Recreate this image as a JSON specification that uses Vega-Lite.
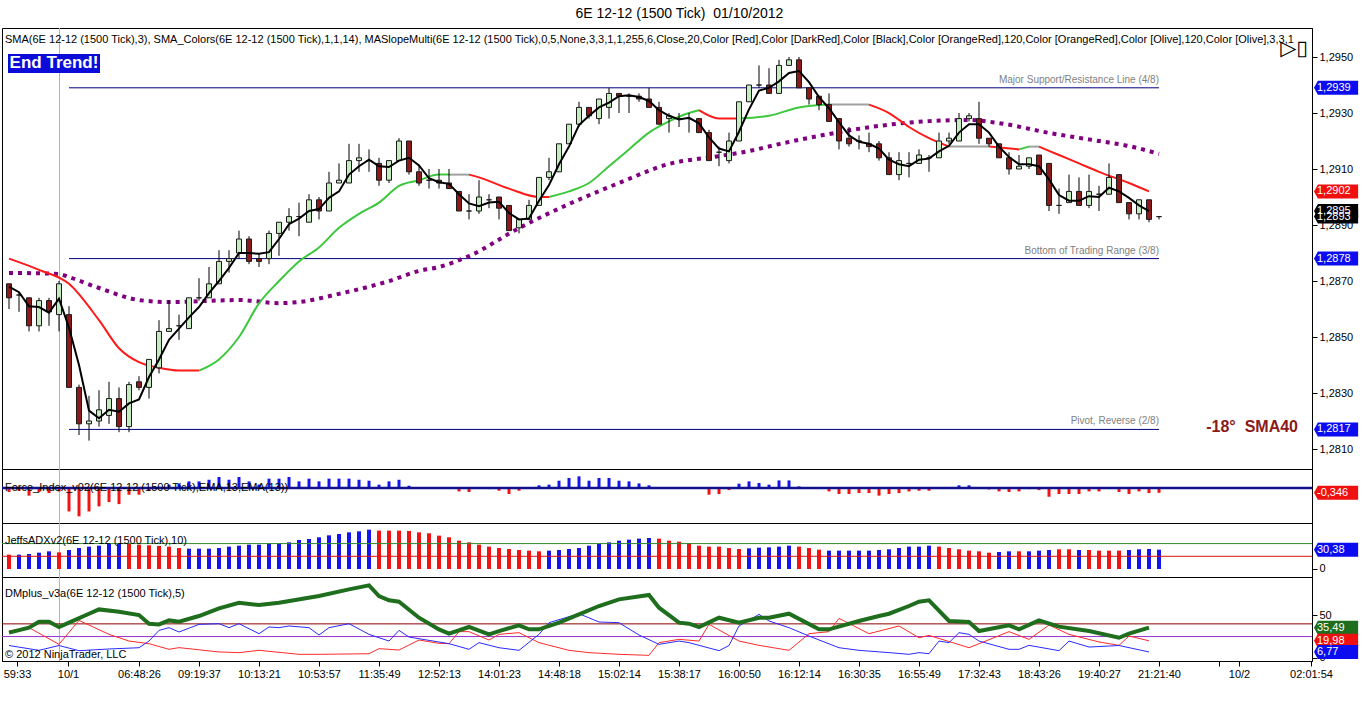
{
  "$schema": "https://vega.github.io/schema/vega-lite/v6.json",
  "background": "white",
  "padding": {"left": 0, "top": 7, "right": 0, "bottom": 0},
  "title": {"text": "6E 12-12 (1500 Tick)\u00a0 01/10/2012", "font": "Liberation Sans", "fontSize": 14, "fontWeight": "normal", "color": "black", "anchor": "middle", "offset": 6},
  "spacing": 0,
  "bounds": "flush",
  "config": {
    "view": {"stroke": "black", "strokeWidth": 1},
    "font": "Liberation Sans",
    "axis": {"grid": false, "labelFont": "Liberation Sans", "labelFontSize": 11, "labelColor": "black", "tickColor": "black", "domainColor": "black", "tickSize": 5, "labelPadding": 2, "labelOverlap": false},
    "text": {"font": "Liberation Sans"}
  },
  "resolve": {"scale": {"x": "independent", "y": "independent", "color": "independent", "fill": "independent", "stroke": "independent"}},
  "datasets": {
    "bars": [
      {"i":0,"o":1.2869,"h":1.2869,"l":1.2860,"c":1.2864,"s3":1.2868,"f":-0.29,"a":22.6,"ad":"dn"},
      {"i":1,"o":1.2865,"h":1.2866,"l":1.2859,"c":1.2865,"s3":1.2866,"f":-0.2,"a":22.6,"ad":"up"},
      {"i":2,"o":1.2864,"h":1.2864,"l":1.2852,"c":1.2854,"s3":1.2861,"f":-0.56,"a":23.6,"ad":"up"},
      {"i":3,"o":1.2854,"h":1.2864,"l":1.2852,"c":1.2863,"s3":1.28607,"f":-0.29,"a":25.7,"ad":"up"},
      {"i":4,"o":1.2863,"h":1.2864,"l":1.2854,"c":1.2859,"s3":1.28587,"f":-0.37,"a":27.8,"ad":"up"},
      {"i":5,"o":1.2858,"h":1.2870,"l":1.2852,"c":1.2869,"s3":1.28637,"f":-0.25,"a":26.2,"ad":"dn"},
      {"i":6,"o":1.2858,"h":1.2861,"l":1.2832,"c":1.2832,"s3":1.28533,"f":-1.72,"a":29.9,"ad":"up"},
      {"i":7,"o":1.2832,"h":1.2833,"l":1.2815,"c":1.2819,"s3":1.2840,"f":-2.08,"a":33,"ad":"up"},
      {"i":8,"o":1.2819,"h":1.2829,"l":1.2813,"c":1.2820,"s3":1.28237,"f":-1.72,"a":35.2,"ad":"up"},
      {"i":9,"o":1.2820,"h":1.2831,"l":1.2818,"c":1.2824,"s3":1.2821,"f":-1.35,"a":36.7,"ad":"up"},
      {"i":10,"o":1.2822,"h":1.2834,"l":1.2819,"c":1.2828,"s3":1.2824,"f":-1.03,"a":39.4,"ad":"up"},
      {"i":11,"o":1.2828,"h":1.2832,"l":1.2816,"c":1.2818,"s3":1.28233,"f":-1.18,"a":40.4,"ad":"up"},
      {"i":12,"o":1.2818,"h":1.2834,"l":1.2816,"c":1.2833,"s3":1.28263,"f":-0.49,"a":39.4,"ad":"dn"},
      {"i":13,"o":1.2834,"h":1.2836,"l":1.2831,"c":1.2832,"s3":1.28277,"f":-0.49,"a":38.3,"ad":"dn"},
      {"i":14,"o":1.2832,"h":1.2842,"l":1.2828,"c":1.2842,"s3":1.28357,"f":-0.2,"a":37.3,"ad":"dn"},
      {"i":15,"o":1.2839,"h":1.2856,"l":1.2837,"c":1.2852,"s3":1.2842,"f":0.1,"a":36.2,"ad":"dn"},
      {"i":16,"o":1.2852,"h":1.2863,"l":1.2852,"c":1.2853,"s3":1.2849,"f":0.25,"a":35.2,"ad":"dn"},
      {"i":17,"o":1.2854,"h":1.2858,"l":1.2849,"c":1.2854,"s3":1.2853,"f":0.3,"a":33,"ad":"dn"},
      {"i":18,"o":1.2853,"h":1.2864,"l":1.2853,"c":1.2864,"s3":1.2857,"f":0.49,"a":32,"ad":"up"},
      {"i":19,"o":1.2864,"h":1.2871,"l":1.2863,"c":1.2864,"s3":1.28607,"f":0.49,"a":32,"ad":"up"},
      {"i":20,"o":1.2864,"h":1.2875,"l":1.2864,"c":1.2869,"s3":1.28657,"f":0.61,"a":32,"ad":"up"},
      {"i":21,"o":1.2869,"h":1.2881,"l":1.2869,"c":1.2877,"s3":1.2870,"f":0.81,"a":33,"ad":"up"},
      {"i":22,"o":1.2877,"h":1.2881,"l":1.2873,"c":1.2878,"s3":1.28747,"f":0.61,"a":35.2,"ad":"up"},
      {"i":23,"o":1.2880,"h":1.2888,"l":1.2878,"c":1.2885,"s3":1.2880,"f":0.81,"a":36.7,"ad":"up"},
      {"i":24,"o":1.2885,"h":1.2886,"l":1.2876,"c":1.2877,"s3":1.2880,"f":0.49,"a":38.3,"ad":"up"},
      {"i":25,"o":1.2878,"h":1.2880,"l":1.2875,"c":1.2877,"s3":1.28797,"f":0.25,"a":38.3,"ad":"up"},
      {"i":26,"o":1.2878,"h":1.2888,"l":1.2876,"c":1.2887,"s3":1.28803,"f":0.69,"a":40.4,"ad":"up"},
      {"i":27,"o":1.2887,"h":1.2891,"l":1.2879,"c":1.2891,"s3":1.2885,"f":0.69,"a":40.4,"ad":"up"},
      {"i":28,"o":1.2891,"h":1.2896,"l":1.2888,"c":1.2893,"s3":1.28903,"f":0.81,"a":42,"ad":"up"},
      {"i":29,"o":1.2893,"h":1.2898,"l":1.2886,"c":1.2893,"s3":1.28923,"f":0.49,"a":45.7,"ad":"up"},
      {"i":30,"o":1.2891,"h":1.2901,"l":1.2891,"c":1.2899,"s3":1.2895,"f":0.69,"a":47.2,"ad":"up"},
      {"i":31,"o":1.2899,"h":1.2900,"l":1.2892,"c":1.2895,"s3":1.28957,"f":0.49,"a":49.9,"ad":"up"},
      {"i":32,"o":1.2895,"h":1.2909,"l":1.2895,"c":1.2905,"s3":1.28997,"f":0.69,"a":53,"ad":"up"},
      {"i":33,"o":1.2905,"h":1.2912,"l":1.2905,"c":1.2906,"s3":1.2902,"f":0.69,"a":55.1,"ad":"up"},
      {"i":34,"o":1.2905,"h":1.2919,"l":1.2905,"c":1.2913,"s3":1.2908,"f":0.69,"a":57.7,"ad":"up"},
      {"i":35,"o":1.2913,"h":1.2919,"l":1.2909,"c":1.2914,"s3":1.2911,"f":0.61,"a":59.3,"ad":"up"},
      {"i":36,"o":1.2913,"h":1.2917,"l":1.2909,"c":1.2913,"s3":1.29133,"f":0.54,"a":61.9,"ad":"up"},
      {"i":37,"o":1.2912,"h":1.2914,"l":1.2904,"c":1.2906,"s3":1.2911,"f":0.25,"a":60.4,"ad":"dn"},
      {"i":38,"o":1.2906,"h":1.2913,"l":1.2905,"c":1.2913,"s3":1.29107,"f":0.49,"a":60.4,"ad":"dn"},
      {"i":39,"o":1.2913,"h":1.2921,"l":1.2913,"c":1.2920,"s3":1.2913,"f":0.61,"a":60.4,"ad":"dn"},
      {"i":40,"o":1.2920,"h":1.2920,"l":1.2908,"c":1.2909,"s3":1.2914,"f":0.17,"a":59.8,"ad":"dn"},
      {"i":41,"o":1.2909,"h":1.2911,"l":1.2904,"c":1.2905,"s3":1.29113,"f":0.02,"a":57.7,"ad":"dn"},
      {"i":42,"o":1.2906,"h":1.2910,"l":1.2903,"c":1.2906,"s3":1.29067,"f":-0.03,"a":56.2,"ad":"dn"},
      {"i":43,"o":1.2906,"h":1.2910,"l":1.2903,"c":1.2905,"s3":1.29053,"f":0.01,"a":52.5,"ad":"dn"},
      {"i":44,"o":1.2905,"h":1.2910,"l":1.2903,"c":1.2903,"s3":1.29047,"f":-0.05,"a":49.9,"ad":"dn"},
      {"i":45,"o":1.2902,"h":1.2902,"l":1.2895,"c":1.2895,"s3":1.2901,"f":-0.25,"a":44.6,"ad":"dn"},
      {"i":46,"o":1.2895,"h":1.2901,"l":1.2892,"c":1.2895,"s3":1.28977,"f":-0.29,"a":42,"ad":"dn"},
      {"i":47,"o":1.2895,"h":1.2906,"l":1.2894,"c":1.2900,"s3":1.28967,"f":-0.05,"a":38.3,"ad":"dn"},
      {"i":48,"o":1.2899,"h":1.2901,"l":1.2896,"c":1.2899,"s3":1.2898,"f":-0.08,"a":35.2,"ad":"dn"},
      {"i":49,"o":1.2900,"h":1.2900,"l":1.2892,"c":1.2896,"s3":1.28983,"f":-0.2,"a":33,"ad":"dn"},
      {"i":50,"o":1.2897,"h":1.2897,"l":1.2888,"c":1.2888,"s3":1.28943,"f":-0.44,"a":31.5,"ad":"dn"},
      {"i":51,"o":1.2889,"h":1.2892,"l":1.2887,"c":1.2892,"s3":1.2892,"f":-0.2,"a":29.9,"ad":"dn"},
      {"i":52,"o":1.2892,"h":1.2899,"l":1.2892,"c":1.2897,"s3":1.28923,"f":0.05,"a":28.9,"ad":"dn"},
      {"i":53,"o":1.2897,"h":1.2907,"l":1.2897,"c":1.2907,"s3":1.28987,"f":0.2,"a":27.8,"ad":"dn"},
      {"i":54,"o":1.2907,"h":1.2914,"l":1.2906,"c":1.2909,"s3":1.29043,"f":0.25,"a":28.9,"ad":"up"},
      {"i":55,"o":1.2909,"h":1.2919,"l":1.2909,"c":1.2919,"s3":1.29117,"f":0.54,"a":29.9,"ad":"up"},
      {"i":56,"o":1.2919,"h":1.2926,"l":1.2919,"c":1.2926,"s3":1.2918,"f":0.74,"a":31.5,"ad":"up"},
      {"i":57,"o":1.2926,"h":1.2934,"l":1.2925,"c":1.2932,"s3":1.29257,"f":0.86,"a":33,"ad":"up"},
      {"i":58,"o":1.2932,"h":1.2932,"l":1.2928,"c":1.2929,"s3":1.2929,"f":0.54,"a":36.7,"ad":"up"},
      {"i":59,"o":1.2928,"h":1.2935,"l":1.2926,"c":1.2935,"s3":1.2932,"f":0.74,"a":39.4,"ad":"up"},
      {"i":60,"o":1.2932,"h":1.2939,"l":1.2928,"c":1.2937,"s3":1.29337,"f":0.74,"a":42,"ad":"up"},
      {"i":61,"o":1.2937,"h":1.2937,"l":1.2930,"c":1.2936,"s3":1.2936,"f":0.54,"a":44.6,"ad":"up"},
      {"i":62,"o":1.2936,"h":1.2937,"l":1.2930,"c":1.2936,"s3":1.29363,"f":0.49,"a":46.2,"ad":"up"},
      {"i":63,"o":1.2936,"h":1.2937,"l":1.2934,"c":1.2935,"s3":1.29357,"f":0.34,"a":47.8,"ad":"up"},
      {"i":64,"o":1.2935,"h":1.2939,"l":1.2932,"c":1.2932,"s3":1.29343,"f":0.2,"a":48.8,"ad":"up"},
      {"i":65,"o":1.2932,"h":1.2934,"l":1.2926,"c":1.2926,"s3":1.2931,"f":-0.03,"a":47.8,"ad":"dn"},
      {"i":66,"o":1.2928,"h":1.2930,"l":1.2923,"c":1.2929,"s3":1.2929,"f":0.02,"a":44.6,"ad":"dn"},
      {"i":67,"o":1.2928,"h":1.2930,"l":1.2925,"c":1.2928,"s3":1.29277,"f":-0.02,"a":43,"ad":"dn"},
      {"i":68,"o":1.2928,"h":1.2930,"l":1.2923,"c":1.2928,"s3":1.29283,"f":0.01,"a":40.9,"ad":"dn"},
      {"i":69,"o":1.2928,"h":1.2928,"l":1.2923,"c":1.2923,"s3":1.29263,"f":-0.05,"a":36.7,"ad":"dn"},
      {"i":70,"o":1.2923,"h":1.2924,"l":1.2913,"c":1.2913,"s3":1.29213,"f":-0.49,"a":35.2,"ad":"dn"},
      {"i":71,"o":1.2916,"h":1.2918,"l":1.2911,"c":1.2916,"s3":1.29173,"f":-0.44,"a":35.2,"ad":"dn"},
      {"i":72,"o":1.2913,"h":1.2923,"l":1.2912,"c":1.2920,"s3":1.29163,"f":-0.15,"a":33,"ad":"dn"},
      {"i":73,"o":1.2920,"h":1.2934,"l":1.2920,"c":1.2934,"s3":1.29233,"f":0.32,"a":31.5,"ad":"dn"},
      {"i":74,"o":1.2934,"h":1.2940,"l":1.2934,"c":1.2940,"s3":1.29313,"f":0.49,"a":32.5,"ad":"up"},
      {"i":75,"o":1.2940,"h":1.2947,"l":1.2939,"c":1.2940,"s3":1.2938,"f":0.37,"a":33.6,"ad":"up"},
      {"i":76,"o":1.2940,"h":1.2946,"l":1.2937,"c":1.2937,"s3":1.2939,"f":0.25,"a":34.1,"ad":"up"},
      {"i":77,"o":1.2937,"h":1.2949,"l":1.2937,"c":1.2947,"s3":1.29413,"f":0.56,"a":35.2,"ad":"up"},
      {"i":78,"o":1.2947,"h":1.2950,"l":1.2947,"c":1.2949,"s3":1.29443,"f":0.56,"a":36.7,"ad":"up"},
      {"i":79,"o":1.2949,"h":1.2950,"l":1.2939,"c":1.2939,"s3":1.2945,"f":0.12,"a":35.2,"ad":"dn"},
      {"i":80,"o":1.2939,"h":1.2939,"l":1.2933,"c":1.2935,"s3":1.2941,"f":0.02,"a":33,"ad":"dn"},
      {"i":81,"o":1.2936,"h":1.2936,"l":1.2931,"c":1.2933,"s3":1.29357,"f":-0.05,"a":30.4,"ad":"dn"},
      {"i":82,"o":1.2933,"h":1.2937,"l":1.2927,"c":1.2927,"s3":1.29317,"f":-0.25,"a":28.9,"ad":"up"},
      {"i":83,"o":1.2928,"h":1.2928,"l":1.2917,"c":1.2920,"s3":1.29267,"f":-0.44,"a":28.9,"ad":"up"},
      {"i":84,"o":1.2921,"h":1.2925,"l":1.2918,"c":1.2919,"s3":1.2922,"f":-0.44,"a":28.9,"ad":"up"},
      {"i":85,"o":1.2920,"h":1.2922,"l":1.2917,"c":1.2920,"s3":1.29197,"f":-0.37,"a":28.9,"ad":"up"},
      {"i":86,"o":1.2919,"h":1.2923,"l":1.2916,"c":1.2918,"s3":1.2919,"f":-0.37,"a":28.9,"ad":"up"},
      {"i":87,"o":1.2919,"h":1.2920,"l":1.2913,"c":1.2914,"s3":1.29173,"f":-0.56,"a":29.9,"ad":"up"},
      {"i":88,"o":1.2914,"h":1.2916,"l":1.2908,"c":1.2908,"s3":1.29133,"f":-0.44,"a":31,"ad":"up"},
      {"i":89,"o":1.2908,"h":1.2916,"l":1.2906,"c":1.2913,"s3":1.29117,"f":-0.37,"a":33,"ad":"up"},
      {"i":90,"o":1.2912,"h":1.2916,"l":1.2907,"c":1.2912,"s3":1.2911,"f":-0.25,"a":35.2,"ad":"up"},
      {"i":91,"o":1.2912,"h":1.2917,"l":1.2912,"c":1.2915,"s3":1.29133,"f":-0.2,"a":35.2,"ad":"up"},
      {"i":92,"o":1.2914,"h":1.2915,"l":1.2909,"c":1.2914,"s3":1.29137,"f":-0.2,"a":36.7,"ad":"up"},
      {"i":93,"o":1.2914,"h":1.2923,"l":1.2914,"c":1.2920,"s3":1.29163,"f":0.03,"a":35.2,"ad":"dn"},
      {"i":94,"o":1.2920,"h":1.2923,"l":1.2919,"c":1.2921,"s3":1.29183,"f":0.02,"a":33,"ad":"dn"},
      {"i":95,"o":1.2920,"h":1.2930,"l":1.2920,"c":1.2928,"s3":1.2923,"f":0.2,"a":31,"ad":"dn"},
      {"i":96,"o":1.2928,"h":1.2930,"l":1.2927,"c":1.2929,"s3":1.2926,"f":0.2,"a":28.9,"ad":"dn"},
      {"i":97,"o":1.2928,"h":1.2934,"l":1.2919,"c":1.2921,"s3":1.2926,"f":0.02,"a":27.8,"ad":"dn"},
      {"i":98,"o":1.2921,"h":1.2921,"l":1.2918,"c":1.2919,"s3":1.2923,"f":-0.1,"a":25.7,"ad":"dn"},
      {"i":99,"o":1.2919,"h":1.2919,"l":1.2914,"c":1.2914,"s3":1.2918,"f":-0.25,"a":26.8,"ad":"up"},
      {"i":100,"o":1.2914,"h":1.2916,"l":1.2908,"c":1.2910,"s3":1.29143,"f":-0.29,"a":27.8,"ad":"up"},
      {"i":101,"o":1.2910,"h":1.2915,"l":1.2910,"c":1.2911,"s3":1.29117,"f":-0.25,"a":27.8,"ad":"dn"},
      {"i":102,"o":1.2911,"h":1.2914,"l":1.2910,"c":1.2914,"s3":1.29117,"f":-0.08,"a":27.8,"ad":"up"},
      {"i":103,"o":1.2915,"h":1.2915,"l":1.2908,"c":1.2908,"s3":1.2911,"f":-0.15,"a":28.9,"ad":"up"},
      {"i":104,"o":1.2912,"h":1.2912,"l":1.2895,"c":1.2897,"s3":1.29063,"f":-0.64,"a":29.9,"ad":"up"},
      {"i":105,"o":1.2897,"h":1.2903,"l":1.2894,"c":1.2897,"s3":1.29007,"f":-0.44,"a":31,"ad":"dn"},
      {"i":106,"o":1.2898,"h":1.2908,"l":1.2898,"c":1.2902,"s3":1.28987,"f":-0.44,"a":31,"ad":"dn"},
      {"i":107,"o":1.2902,"h":1.2907,"l":1.2897,"c":1.2897,"s3":1.28987,"f":-0.44,"a":29.9,"ad":"up"},
      {"i":108,"o":1.2897,"h":1.2908,"l":1.2896,"c":1.2902,"s3":1.29003,"f":-0.25,"a":29.9,"ad":"dn"},
      {"i":109,"o":1.2901,"h":1.2904,"l":1.2895,"c":1.2901,"s3":1.2900,"f":-0.25,"a":28.9,"ad":"dn"},
      {"i":110,"o":1.2901,"h":1.2912,"l":1.2901,"c":1.2907,"s3":1.29033,"f":-0.05,"a":28.9,"ad":"dn"},
      {"i":111,"o":1.2908,"h":1.2908,"l":1.2898,"c":1.2898,"s3":1.2902,"f":-0.29,"a":28.9,"ad":"dn"},
      {"i":112,"o":1.2898,"h":1.2898,"l":1.2892,"c":1.2894,"s3":1.28997,"f":-0.44,"a":29.9,"ad":"up"},
      {"i":113,"o":1.2894,"h":1.2899,"l":1.2892,"c":1.2899,"s3":1.2897,"f":-0.25,"a":31,"ad":"up"},
      {"i":114,"o":1.2899,"h":1.2899,"l":1.2891,"c":1.2892,"s3":1.2895,"f":-0.37,"a":31.5,"ad":"up"},
      {"i":115,"o":1.2893,"h":1.2893,"l":1.2892,"c":1.2893,"s3":null,"f":-0.35,"a":30.4,"ad":"up"}
    ],
    "levels": [
      {"v":1.2939,"name":"Major Support/Resistance Line (4/8)"},
      {"v":1.2878,"name":"Bottom of Trading Range (3/8)"},
      {"v":1.2817,"name":"Pivot, Reverse (2/8)"}
    ],
    "sma14": [
      {"s":1,"d":"dn","i":0,"v":1.2878},{"s":1,"d":"dn","i":3,"v":1.2874},{"s":1,"d":"dn","i":6,"v":1.2869},{"s":1,"d":"dn","i":9,"v":1.2856},{"s":1,"d":"dn","i":11,"v":1.2846},{"s":1,"d":"dn","i":13,"v":1.2841},{"s":1,"d":"dn","i":15,"v":1.2839},{"s":1,"d":"dn","i":17,"v":1.2838},{"s":1,"d":"dn","i":19,"v":1.2838},
      {"s":2,"d":"up","i":19,"v":1.2838},{"s":2,"d":"up","i":21,"v":1.2842},{"s":2,"d":"up","i":23,"v":1.2850},{"s":2,"d":"up","i":25,"v":1.2862},{"s":2,"d":"up","i":27,"v":1.2870},{"s":2,"d":"up","i":29,"v":1.2877},{"s":2,"d":"up","i":31,"v":1.2882},{"s":2,"d":"up","i":33,"v":1.2889},{"s":2,"d":"up","i":35,"v":1.2894},{"s":2,"d":"up","i":37,"v":1.2898},{"s":2,"d":"up","i":39,"v":1.2904},{"s":2,"d":"up","i":41,"v":1.2906},{"s":2,"d":"up","i":43,"v":1.2908},{"s":2,"d":"up","i":44,"v":1.2908},
      {"s":3,"d":"flat","i":44,"v":1.2908},{"s":3,"d":"flat","i":46,"v":1.2908},
      {"s":4,"d":"dn","i":46,"v":1.2908},{"s":4,"d":"dn","i":47,"v":1.2907},{"s":4,"d":"dn","i":50,"v":1.2903},{"s":4,"d":"dn","i":53,"v":1.2900},{"s":4,"d":"dn","i":54,"v":1.2900},
      {"s":5,"d":"up","i":54,"v":1.2900},{"s":5,"d":"up","i":56,"v":1.2902},{"s":5,"d":"up","i":58,"v":1.2905},{"s":5,"d":"up","i":60,"v":1.2911},{"s":5,"d":"up","i":62,"v":1.2917},{"s":5,"d":"up","i":64,"v":1.2923},{"s":5,"d":"up","i":66,"v":1.2927},{"s":5,"d":"up","i":68,"v":1.2930},{"s":5,"d":"up","i":69,"v":1.2931},
      {"s":6,"d":"dn","i":69,"v":1.2931},{"s":6,"d":"dn","i":71,"v":1.2928},{"s":6,"d":"dn","i":73,"v":1.2928},
      {"s":7,"d":"up","i":73,"v":1.2928},{"s":7,"d":"up","i":76,"v":1.2929},{"s":7,"d":"up","i":79,"v":1.2932},{"s":7,"d":"up","i":82,"v":1.2933},
      {"s":8,"d":"flat","i":82,"v":1.2933},{"s":8,"d":"flat","i":86,"v":1.2933},
      {"s":9,"d":"dn","i":86,"v":1.2933},{"s":9,"d":"dn","i":88,"v":1.2930},{"s":9,"d":"dn","i":90,"v":1.2925},{"s":9,"d":"dn","i":92,"v":1.2921},{"s":9,"d":"dn","i":94,"v":1.2918},
      {"s":10,"d":"flat","i":94,"v":1.2918},{"s":10,"d":"flat","i":98,"v":1.2918},
      {"s":11,"d":"dn","i":98,"v":1.2918},{"s":11,"d":"dn","i":101,"v":1.2917},
      {"s":12,"d":"up","i":101,"v":1.2917},{"s":12,"d":"up","i":102,"v":1.2918},
      {"s":13,"d":"flat","i":102,"v":1.2918},{"s":13,"d":"flat","i":103,"v":1.2918},
      {"s":14,"d":"dn","i":103,"v":1.2918},{"s":14,"d":"dn","i":105,"v":1.2915},{"s":14,"d":"dn","i":107,"v":1.2912},{"s":14,"d":"dn","i":109,"v":1.2909},{"s":14,"d":"dn","i":112,"v":1.2905},{"s":14,"d":"dn","i":114,"v":1.2902}
    ],
    "sma40": [
      {"i":0,"v":1.28729},{"i":5,"v":1.28725},{"i":6,"v":1.28714},{"i":9,"v":1.28675},{"i":13,"v":1.28632},{"i":16,"v":1.28625},{"i":23,"v":1.28632},{"i":27,"v":1.28621},{"i":29,"v":1.28625},{"i":33,"v":1.28654},{"i":38,"v":1.287},{"i":41,"v":1.28736},{"i":43,"v":1.2875},{"i":46,"v":1.28789},{"i":51,"v":1.28889},{"i":56,"v":1.28975},{"i":61,"v":1.2905},{"i":66,"v":1.29118},{"i":71,"v":1.29146},{"i":74,"v":1.29164},{"i":77,"v":1.29189},{"i":82,"v":1.29225},{"i":87,"v":1.29254},{"i":92,"v":1.29271},{"i":96,"v":1.29275},{"i":99,"v":1.29264},{"i":104,"v":1.29229},{"i":109,"v":1.292},{"i":112,"v":1.29182},{"i":115,"v":1.29154}
    ],
    "dm": [
      {"s":"adx","i":0,"v":29.6},{"s":"adx","i":2,"v":35.5},{"s":"adx","i":3,"v":42.6},{"s":"adx","i":4,"v":42.6},{"s":"adx","i":5,"v":36.3},{"s":"adx","i":6,"v":41.4},{"s":"adx","i":8,"v":52},{"s":"adx","i":9,"v":57.1},{"s":"adx","i":11,"v":54.4},{"s":"adx","i":13,"v":50.4},{"s":"adx","i":14,"v":40.2},{"s":"adx","i":15,"v":39.4},{"s":"adx","i":16,"v":44.1},{"s":"adx","i":17,"v":42.6},{"s":"adx","i":19,"v":49.3},{"s":"adx","i":21,"v":58.3},{"s":"adx","i":23,"v":65},{"s":"adx","i":25,"v":62.2},{"s":"adx","i":27,"v":65},{"s":"adx","i":31,"v":72.9},{"s":"adx","i":34,"v":80.8},{"s":"adx","i":36,"v":85.5},{"s":"adx","i":37,"v":72.9},{"s":"adx","i":38,"v":67.8},{"s":"adx","i":39,"v":66.2},{"s":"adx","i":41,"v":47.3},{"s":"adx","i":43,"v":33.5},{"s":"adx","i":44,"v":28.4},{"s":"adx","i":46,"v":36.3},{"s":"adx","i":48,"v":27.6},{"s":"adx","i":49,"v":31.5},{"s":"adx","i":51,"v":38.2},{"s":"adx","i":52,"v":33.5},{"s":"adx","i":53,"v":33.5},{"s":"adx","i":55,"v":41.4},{"s":"adx","i":57,"v":51.2},{"s":"adx","i":59,"v":61.1},{"s":"adx","i":61,"v":69},{"s":"adx","i":64,"v":74.1},{"s":"adx","i":65,"v":59.1},{"s":"adx","i":67,"v":41.4},{"s":"adx","i":68,"v":40.2},{"s":"adx","i":69,"v":36.3},{"s":"adx","i":71,"v":47.3},{"s":"adx","i":73,"v":41.4},{"s":"adx","i":75,"v":47.3},{"s":"adx","i":76,"v":47.3},{"s":"adx","i":78,"v":52},{"s":"adx","i":81,"v":33.5},{"s":"adx","i":82,"v":33.5},{"s":"adx","i":85,"v":43.4},{"s":"adx","i":87,"v":49.3},{"s":"adx","i":88,"v":52},{"s":"adx","i":90,"v":61.1},{"s":"adx","i":91,"v":66.2},{"s":"adx","i":92,"v":67.8},{"s":"adx","i":94,"v":43.4},{"s":"adx","i":96,"v":42.2},{"s":"adx","i":97,"v":31.5},{"s":"adx","i":100,"v":38.2},{"s":"adx","i":101,"v":33.5},{"s":"adx","i":103,"v":44.1},{"s":"adx","i":105,"v":36.7},{"s":"adx","i":108,"v":31.5},{"s":"adx","i":111,"v":23.6},{"s":"adx","i":112,"v":28.4},{"s":"adx","i":114,"v":35.5},
      {"s":"plus","i":0,"v":31.6},{"s":"plus","i":2,"v":35.5},{"s":"plus","i":5,"v":15.8},{"s":"plus","i":7,"v":44.1},{"s":"plus","i":10,"v":27.6},{"s":"plus","i":12,"v":19.7},{"s":"plus","i":14,"v":16.6},{"s":"plus","i":16,"v":9.9},{"s":"plus","i":17,"v":11.9},{"s":"plus","i":21,"v":6.8},{"s":"plus","i":23,"v":6},{"s":"plus","i":25,"v":8.7},{"s":"plus","i":29,"v":4},{"s":"plus","i":31,"v":4},{"s":"plus","i":36,"v":4.7},{"s":"plus","i":37,"v":10.7},{"s":"plus","i":39,"v":9.1},{"s":"plus","i":41,"v":20.9},{"s":"plus","i":43,"v":17},{"s":"plus","i":44,"v":16.6},{"s":"plus","i":45,"v":30.8},{"s":"plus","i":46,"v":30.8},{"s":"plus","i":48,"v":20.9},{"s":"plus","i":49,"v":27.6},{"s":"plus","i":51,"v":29.6},{"s":"plus","i":53,"v":17.8},{"s":"plus","i":56,"v":8.7},{"s":"plus","i":58,"v":6},{"s":"plus","i":61,"v":4},{"s":"plus","i":64,"v":2.8},{"s":"plus","i":65,"v":17.8},{"s":"plus","i":67,"v":21.7},{"s":"plus","i":69,"v":19.7},{"s":"plus","i":70,"v":39.4},{"s":"plus","i":73,"v":19.7},{"s":"plus","i":75,"v":14.6},{"s":"plus","i":78,"v":8.7},{"s":"plus","i":80,"v":28.4},{"s":"plus","i":82,"v":30.8},{"s":"plus","i":83,"v":46.5},{"s":"plus","i":86,"v":28.4},{"s":"plus","i":89,"v":37.5},{"s":"plus","i":91,"v":23.6},{"s":"plus","i":92,"v":26.4},{"s":"plus","i":96,"v":11.8},{"s":"plus","i":100,"v":30.8},{"s":"plus","i":102,"v":21.7},{"s":"plus","i":104,"v":38.6},{"s":"plus","i":106,"v":27.6},{"s":"plus","i":109,"v":18.6},{"s":"plus","i":111,"v":14.6},{"s":"plus","i":112,"v":25.6},{"s":"plus","i":114,"v":20},
      {"s":"minus","i":0,"v":14.4},{"s":"minus","i":3,"v":8.7},{"s":"minus","i":5,"v":14.4},{"s":"minus","i":7,"v":8.3},{"s":"minus","i":10,"v":10.3},{"s":"minus","i":13,"v":11.8},{"s":"minus","i":14,"v":19.7},{"s":"minus","i":15,"v":32.3},{"s":"minus","i":16,"v":35.5},{"s":"minus","i":17,"v":30.4},{"s":"minus","i":19,"v":39.4},{"s":"minus","i":21,"v":40.2},{"s":"minus","i":22,"v":35.5},{"s":"minus","i":23,"v":40.2},{"s":"minus","i":25,"v":28.4},{"s":"minus","i":26,"v":36.3},{"s":"minus","i":27,"v":35.5},{"s":"minus","i":28,"v":37.5},{"s":"minus","i":30,"v":35.5},{"s":"minus","i":31,"v":26.8},{"s":"minus","i":32,"v":35.5},{"s":"minus","i":34,"v":40.2},{"s":"minus","i":36,"v":27.6},{"s":"minus","i":38,"v":19.7},{"s":"minus","i":39,"v":32.3},{"s":"minus","i":40,"v":24.4},{"s":"minus","i":44,"v":16.6},{"s":"minus","i":46,"v":9.9},{"s":"minus","i":47,"v":17.8},{"s":"minus","i":49,"v":11.8},{"s":"minus","i":51,"v":8.7},{"s":"minus","i":53,"v":27.6},{"s":"minus","i":54,"v":41.4},{"s":"minus","i":57,"v":52},{"s":"minus","i":59,"v":42.2},{"s":"minus","i":61,"v":41.4},{"s":"minus","i":63,"v":26.8},{"s":"minus","i":65,"v":15.8},{"s":"minus","i":67,"v":19.7},{"s":"minus","i":68,"v":17.8},{"s":"minus","i":71,"v":8.3},{"s":"minus","i":72,"v":14.4},{"s":"minus","i":73,"v":37.5},{"s":"minus","i":75,"v":51.2},{"s":"minus","i":76,"v":43.4},{"s":"minus","i":78,"v":35.5},{"s":"minus","i":80,"v":25.6},{"s":"minus","i":83,"v":11.8},{"s":"minus","i":85,"v":8.7},{"s":"minus","i":88,"v":6},{"s":"minus","i":90,"v":4},{"s":"minus","i":91,"v":6},{"s":"minus","i":92,"v":4.7},{"s":"minus","i":93,"v":19.7},{"s":"minus","i":94,"v":17.8},{"s":"minus","i":95,"v":29.6},{"s":"minus","i":96,"v":27.6},{"s":"minus","i":97,"v":19.7},{"s":"minus","i":100,"v":9.9},{"s":"minus","i":101,"v":9.9},{"s":"minus","i":102,"v":14.6},{"s":"minus","i":105,"v":8.3},{"s":"minus","i":106,"v":19.7},{"s":"minus","i":108,"v":12.6},{"s":"minus","i":111,"v":14.4},{"s":"minus","i":114,"v":6.8}
    ],
    "tags": [
      {"p":"main","v":1.2939,"label":"1,2939","k":"level"},
      {"p":"main","v":1.2902,"label":"1,2902","k":"sma"},
      {"p":"main","v":1.2895,"label":"1,2895","k":"price"},
      {"p":"main","v":1.2893,"label":"1,2893","k":"price"},
      {"p":"main","v":1.2878,"label":"1,2878","k":"level"},
      {"p":"main","v":1.2817,"label":"1,2817","k":"level"},
      {"p":"force","v":-0.346,"label":"-0,346","k":"force"},
      {"p":"adx","v":30.38,"label":"30,38","k":"adx"},
      {"p":"dm","v":35.49,"label":"35,49","k":"dmadx"},
      {"p":"dm","v":19.98,"label":"19,98","k":"dmplus"},
      {"p":"dm","v":6.77,"label":"6,77","k":"dmminus"}
    ]
  },
  "vconcat": [
    {
      "width": 1310,
      "height": 441,
      "layer": [
        {
          "data": {"values": [{}]},
          "mark": {"type": "rule", "color": "#b4b4b4", "strokeWidth": 1},
          "encoding": {"x": {"datum": 5.05, "type": "quantitative", "scale": {"domain": [-0.7, 130.3], "nice": false, "zero": false, "padding": 0}, "axis": null}}
        },
        {
          "data": {"name": "levels"},
          "mark": {"type": "rule", "color": "#000080", "strokeWidth": 1},
          "encoding": {
            "x": {"datum": 6, "type": "quantitative"},
            "x2": {"datum": 115},
            "y": {"field": "v", "type": "quantitative", "scale": {"domain": [1.280286, 1.296036], "nice": false, "zero": false, "padding": 0},
              "axis": {"orient": "right", "title": null, "values": [1.281, 1.282, 1.283, 1.284, 1.285, 1.286, 1.287, 1.288, 1.289, 1.290, 1.291, 1.292, 1.293, 1.294, 1.295], "labelExpr": "replace(format(datum.value, '.4f'), '.', ',')"}}
          }
        },
        {
          "data": {"name": "levels"},
          "mark": {"type": "text", "align": "right", "baseline": "bottom", "dy": -3, "fontSize": 10, "color": "#7f7f7f"},
          "encoding": {"x": {"datum": 115, "type": "quantitative"}, "y": {"field": "v", "type": "quantitative"}, "text": {"field": "name"}}
        },
        {
          "data": {"name": "sma40"},
          "mark": {"type": "line", "color": "#800080", "strokeWidth": 4, "strokeDash": [4, 5], "interpolate": "monotone"},
          "encoding": {"x": {"field": "i", "type": "quantitative"}, "y": {"field": "v", "type": "quantitative"}}
        },
        {
          "data": {"name": "sma14"},
          "mark": {"type": "line", "strokeWidth": 2, "interpolate": "monotone"},
          "encoding": {
            "x": {"field": "i", "type": "quantitative"},
            "y": {"field": "v", "type": "quantitative"},
            "detail": {"field": "s"},
            "stroke": {"field": "d", "type": "nominal", "scale": {"domain": ["up", "dn", "flat"], "range": ["#3cc83c", "#ff1a1a", "#a0a0a0"]}, "legend": null}
          }
        },
        {
          "data": {"name": "bars"},
          "mark": {"type": "rule", "color": "black", "strokeWidth": 1},
          "encoding": {"x": {"field": "i", "type": "quantitative"}, "y": {"field": "l", "type": "quantitative"}, "y2": {"field": "h"}}
        },
        {
          "data": {"name": "bars"},
          "mark": {"type": "bar", "width": 5, "stroke": "#1a1a1a", "strokeWidth": 1},
          "encoding": {
            "x": {"field": "i", "type": "quantitative"},
            "y": {"field": "o", "type": "quantitative"},
            "y2": {"field": "c"},
            "fill": {"condition": {"test": "datum.c >= datum.o", "value": "#c6ebc0"}, "value": "#8b1a1a"}
          }
        },
        {
          "data": {"name": "bars"},
          "mark": {"type": "line", "color": "black", "strokeWidth": 2},
          "encoding": {"x": {"field": "i", "type": "quantitative"}, "y": {"field": "s3", "type": "quantitative"}}
        },
        {
          "data": {"values": [{}]},
          "mark": {"type": "text", "align": "left", "baseline": "middle", "fontSize": 11, "color": "black", "limit": 1306, "ellipsis": ""},
          "encoding": {"x": {"datum": -0.4, "type": "quantitative"}, "y": {"datum": 1.29561, "type": "quantitative"},
            "text": {"value": "SMA(6E 12-12 (1500 Tick),3), SMA_Colors(6E 12-12 (1500 Tick),1,1,14), MASlopeMulti(6E 12-12 (1500 Tick),0,5,None,3,3,1,1,255,6,Close,20,Color [Red],Color [DarkRed],Color [Black],Color [OrangeRed],120,Color [OrangeRed],Color [Olive],120,Color [Olive],3,3,1"}}
        },
        {
          "data": {"values": [{}]},
          "mark": {"type": "rect", "color": "#0c0cd8"},
          "encoding": {"x": {"datum": -0.1, "type": "quantitative"}, "x2": {"datum": 9.1}, "y": {"datum": 1.29511, "type": "quantitative"}, "y2": {"datum": 1.29443}}
        },
        {
          "data": {"values": [{}]},
          "mark": {"type": "text", "align": "center", "baseline": "middle", "fontSize": 17, "fontWeight": "bold", "color": "white"},
          "encoding": {"x": {"datum": 4.5, "type": "quantitative"}, "y": {"datum": 1.29477, "type": "quantitative"}, "text": {"value": "End Trend!"}}
        },
        {
          "data": {"values": [{}]},
          "mark": {"type": "text", "align": "right", "baseline": "middle", "fontSize": 16, "fontWeight": "bold", "color": "#8b1a1a"},
          "encoding": {"x": {"datum": 128.9, "type": "quantitative"}, "y": {"datum": 1.28179, "type": "quantitative"}, "text": {"value": "-18°\u00a0 SMA40"}}
        },
        {
          "data": {"values": [{}]},
          "mark": {"type": "text", "align": "center", "baseline": "middle", "fontSize": 21, "font": "DejaVu Sans", "color": "black"},
          "encoding": {"x": {"datum": 128.5, "type": "quantitative"}, "y": {"datum": 1.2953, "type": "quantitative"}, "text": {"value": "▷▯"}}
        },
        {
          "data": {"name": "tags"},
          "transform": [{"filter": "datum.p == 'main'"}],
          "mark": {"type": "point", "shape": "M-1,0L-0.45,-1L5.3,-1L5.3,1L-0.45,1Z", "size": 196, "filled": true, "opacity": 1, "strokeWidth": 0},
          "encoding": {
            "x": {"datum": 131.2, "type": "quantitative"},
            "y": {"field": "v", "type": "quantitative"},
            "fill": {"field": "k", "type": "nominal", "scale": {"domain": ["level", "sma", "price"], "range": ["#0c0cf0", "#f01010", "#000000"]}, "legend": null}
          }
        },
        {
          "data": {"name": "tags"},
          "transform": [{"filter": "datum.p == 'main'"}],
          "mark": {"type": "text", "align": "left", "baseline": "middle", "dx": -4, "fontSize": 11, "color": "white"},
          "encoding": {"x": {"datum": 131.2, "type": "quantitative"}, "y": {"field": "v", "type": "quantitative"}, "text": {"field": "label"}}
        }
      ]
    },
    {
      "width": 1310,
      "height": 54,
      "layer": [
        {
          "data": {"values": [{}]},
          "mark": {"type": "rule", "color": "#b4b4b4", "strokeWidth": 1},
          "encoding": {"x": {"datum": 5.05, "type": "quantitative", "scale": {"domain": [-0.7, 130.3], "nice": false, "zero": false, "padding": 0}, "axis": null}}
        },
        {
          "data": {"name": "bars"},
          "mark": {"type": "bar", "width": 3},
          "encoding": {
            "x": {"field": "i", "type": "quantitative"},
            "y": {"field": "f", "type": "quantitative", "scale": {"domain": [-2.57, 1.40], "nice": false, "zero": false, "padding": 0}, "axis": null},
            "y2": {"datum": 0},
            "color": {"condition": {"test": "datum.f >= 0", "value": "#1414f0"}, "value": "#f01414"}
          }
        },
        {
          "data": {"values": [{}]},
          "mark": {"type": "rule", "color": "#12128c", "strokeWidth": 2.5},
          "encoding": {"y": {"datum": 0, "type": "quantitative"}}
        },
        {
          "data": {"values": [{}]},
          "mark": {"type": "text", "align": "left", "baseline": "middle", "fontSize": 11, "color": "black"},
          "encoding": {"x": {"datum": -0.4, "type": "quantitative"}, "y": {"datum": 0, "type": "quantitative"}, "text": {"value": "Force_Index_v02(6E 12-12 (1500 Tick),EMA,13,EMA(13))"}}
        },
        {
          "data": {"name": "tags"},
          "transform": [{"filter": "datum.p == 'force'"}],
          "mark": {"type": "point", "shape": "M-1,0L-0.45,-1L5.3,-1L5.3,1L-0.45,1Z", "size": 196, "filled": true, "opacity": 1, "strokeWidth": 0},
          "encoding": {
            "x": {"datum": 131.2, "type": "quantitative"},
            "y": {"field": "v", "type": "quantitative"},
            "fill": {"field": "k", "type": "nominal", "scale": {"domain": ["force"], "range": ["#f01010"]}, "legend": null}
          }
        },
        {
          "data": {"name": "tags"},
          "transform": [{"filter": "datum.p == 'force'"}],
          "mark": {"type": "text", "align": "left", "baseline": "middle", "dx": -4, "fontSize": 11, "color": "white"},
          "encoding": {"x": {"datum": 131.2, "type": "quantitative"}, "y": {"field": "v", "type": "quantitative"}, "text": {"field": "label"}}
        }
      ]
    },
    {
      "width": 1310,
      "height": 54,
      "layer": [
        {
          "data": {"values": [{}]},
          "mark": {"type": "rule", "color": "#b4b4b4", "strokeWidth": 1},
          "encoding": {"x": {"datum": 5.05, "type": "quantitative", "scale": {"domain": [-0.7, 130.3], "nice": false, "zero": false, "padding": 0}, "axis": null}}
        },
        {
          "data": {"name": "bars"},
          "mark": {"type": "bar", "width": 4},
          "encoding": {
            "x": {"field": "i", "type": "quantitative"},
            "y": {"field": "a", "type": "quantitative", "scale": {"domain": [-12.6, 72.4], "nice": false, "zero": false, "padding": 0}, "axis": {"orient": "right", "title": null, "values": [0]}},
            "y2": {"datum": 0},
            "color": {"field": "ad", "type": "nominal", "scale": {"domain": ["up", "dn"], "range": ["#1414f0", "#f01414"]}, "legend": null}
          }
        },
        {
          "data": {"values": [{}]},
          "mark": {"type": "rule", "color": "#2e8b2e", "strokeWidth": 1},
          "encoding": {"y": {"datum": 40, "type": "quantitative"}}
        },
        {
          "data": {"values": [{}]},
          "mark": {"type": "rule", "color": "#e01010", "strokeWidth": 1},
          "encoding": {"y": {"datum": 20, "type": "quantitative"}}
        },
        {
          "data": {"values": [{}]},
          "mark": {"type": "text", "align": "left", "baseline": "middle", "fontSize": 11, "color": "black"},
          "encoding": {"x": {"datum": -0.4, "type": "quantitative"}, "y": {"datum": 44, "type": "quantitative"}, "text": {"value": "JeffsADXv2(6E 12-12 (1500 Tick),10)"}}
        },
        {
          "data": {"name": "tags"},
          "transform": [{"filter": "datum.p == 'adx'"}],
          "mark": {"type": "point", "shape": "M-1,0L-0.45,-1L5.3,-1L5.3,1L-0.45,1Z", "size": 196, "filled": true, "opacity": 1, "strokeWidth": 0},
          "encoding": {
            "x": {"datum": 131.2, "type": "quantitative"},
            "y": {"field": "v", "type": "quantitative"},
            "fill": {"field": "k", "type": "nominal", "scale": {"domain": ["adx"], "range": ["#0c0cf0"]}, "legend": null}
          }
        },
        {
          "data": {"name": "tags"},
          "transform": [{"filter": "datum.p == 'adx'"}],
          "mark": {"type": "text", "align": "left", "baseline": "middle", "dx": -4, "fontSize": 11, "color": "white"},
          "encoding": {"x": {"datum": 131.2, "type": "quantitative"}, "y": {"field": "v", "type": "quantitative"}, "text": {"field": "label"}}
        }
      ]
    },
    {
      "width": 1310,
      "height": 84,
      "layer": [
        {
          "data": {"values": [{}]},
          "mark": {"type": "rule", "color": "#b4b4b4", "strokeWidth": 1},
          "encoding": {"x": {"datum": 5.05, "type": "quantitative", "scale": {"domain": [-0.7, 130.3], "nice": false, "zero": false, "padding": 0},
            "axis": {"title": null, "values": [0.8, 5.9, 13, 19, 25, 31, 37, 43, 49, 55, 61, 67, 73, 79, 85, 91, 97, 103, 109, 115, 121, 123, 130.2],
              "labelExpr": "['59:33','10/1','06:48:26','09:19:37','10:13:21','10:53:57','11:35:49','12:52:13','14:01:23','14:48:18','15:02:14','15:38:17','16:00:50','16:12:14','16:30:35','16:55:49','17:32:43','18:43:26','19:40:27','21:21:40','','10/2','02:01:54'][indexof([0.8, 5.9, 13, 19, 25, 31, 37, 43, 49, 55, 61, 67, 73, 79, 85, 91, 97, 103, 109, 115, 121, 123, 130.2], datum.value)]"}}}
        },
        {
          "data": {"values": [{}]},
          "mark": {"type": "rule", "color": "#8b0000", "strokeWidth": 1},
          "encoding": {"y": {"datum": 40, "type": "quantitative", "scale": {"domain": [-3.9, 95.4], "nice": false, "zero": false, "padding": 0}, "axis": {"orient": "right", "title": null, "values": [0, 50]}}}
        },
        {
          "data": {"values": [{}]},
          "mark": {"type": "rule", "color": "#9932cc", "strokeWidth": 1},
          "encoding": {"y": {"datum": 25, "type": "quantitative"}}
        },
        {
          "data": {"name": "dm"},
          "transform": [{"filter": "datum.s != 'adx'"}],
          "mark": {"type": "line", "strokeWidth": 1},
          "encoding": {
            "x": {"field": "i", "type": "quantitative"},
            "y": {"field": "v", "type": "quantitative"},
            "stroke": {"field": "s", "type": "nominal", "scale": {"domain": ["plus", "minus"], "range": ["#ff2a2a", "#2a2aff"]}, "legend": null}
          }
        },
        {
          "data": {"name": "dm"},
          "transform": [{"filter": "datum.s == 'adx'"}],
          "mark": {"type": "line", "strokeWidth": 4, "color": "#1e6e1e"},
          "encoding": {"x": {"field": "i", "type": "quantitative"}, "y": {"field": "v", "type": "quantitative"}}
        },
        {
          "data": {"values": [{}]},
          "mark": {"type": "text", "align": "left", "baseline": "middle", "fontSize": 11, "color": "black"},
          "encoding": {"x": {"datum": -0.4, "type": "quantitative"}, "y": {"datum": 75.3, "type": "quantitative"}, "text": {"value": "DMplus_v3a(6E 12-12 (1500 Tick),5)"}}
        },
        {
          "data": {"values": [{}]},
          "mark": {"type": "text", "align": "left", "baseline": "middle", "fontSize": 11, "color": "black"},
          "encoding": {"x": {"datum": -0.4, "type": "quantitative"}, "y": {"datum": 3.2, "type": "quantitative"}, "text": {"value": "© 2012 NinjaTrader, LLC"}}
        },
        {
          "data": {"name": "tags"},
          "transform": [{"filter": "datum.p == 'dm'"}],
          "mark": {"type": "point", "shape": "M-1,0L-0.45,-1L5.3,-1L5.3,1L-0.45,1Z", "size": 196, "filled": true, "opacity": 1, "strokeWidth": 0},
          "encoding": {
            "x": {"datum": 131.2, "type": "quantitative"},
            "y": {"field": "v", "type": "quantitative"},
            "fill": {"field": "k", "type": "nominal", "scale": {"domain": ["dmadx", "dmplus", "dmminus"], "range": ["#1e6e1e", "#f01010", "#0c0cf0"]}, "legend": null}
          }
        },
        {
          "data": {"name": "tags"},
          "transform": [{"filter": "datum.p == 'dm'"}],
          "mark": {"type": "text", "align": "left", "baseline": "middle", "dx": -4, "fontSize": 11, "color": "white"},
          "encoding": {"x": {"datum": 131.2, "type": "quantitative"}, "y": {"field": "v", "type": "quantitative"}, "text": {"field": "label"}}
        }
      ]
    }
  ]
}
